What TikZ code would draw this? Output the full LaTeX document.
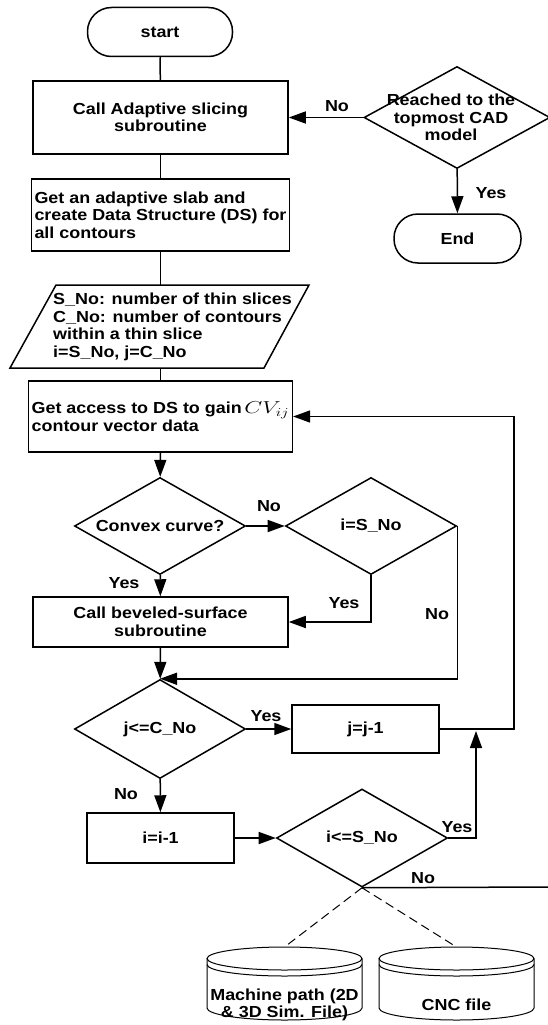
\documentclass[tikz,border=0pt]{standalone}
\usepackage{fontspec}
\usepackage{graphicx}
\newfontfamily\chartfont{Liberation Sans}[FakeStretch=1.12]
\usetikzlibrary{shapes.geometric,arrows.meta}
\newcommand\cvij{\scalebox{1.35}[1]{\fontsize{18}{18}\selectfont$CV_{ij}$}}
\tikzset{
  every node/.style={font=\chartfont\bfseries\fontsize{16}{17.5}\selectfont},
  procbox/.style={draw, line width=1.5pt, rectangle, minimum width=255pt, align=center, inner sep=3pt},
  decision/.style={draw, line width=1.5pt, diamond, inner sep=0pt, minimum width=171pt},
  terminal/.style={draw, line width=1.5pt, rectangle, rounded corners=24pt, minimum height=49pt},
  lbl/.style={inner sep=0pt},
  link/.style={line width=1.5pt},
  flow/.style={line width=1.5pt, -{Triangle[length=17pt,width=12pt]}},
  storeline/.style={line width=1pt},
}
\begin{document}
\begin{tikzpicture}[x=1pt,y=-1pt]
        \useasboundingbox (0,0) rectangle (548,1025);
        %% Main column
        \node[terminal, minimum width=145pt] (start) at (160,32) {start};
        \node[procbox, minimum height=73pt] (slice) at (160.5,117.5) {Call Adaptive slicing\\subroutine};
        \node[procbox, minimum height=72pt, align=left] (slab) at (160.5,215) {Get an adaptive slab and\\create Data Structure (DS) for\\all contours};
        %% Input data
        \draw[link] (56,285) -- (309,285) -- (264,368) -- (10,368) -- cycle;
        \node[align=left, anchor=west, inner sep=0pt] (input) at (53,327) {S\_No: number of thin slices\\C\_No: number of contours\\within a thin slice\\i=S\_No, j=C\_No};
        \coordinate (intop) at (160.5,285);
        \coordinate (inbot) at (160.5,368);
        \node[procbox, minimum height=71pt, align=left] (access) at (160.5,416.5) {Get access to DS to gain\,\cvij\\contour vector data};
        %% Decisions and steps
        \node[decision, minimum height=97pt, label=center:{Convex curve?}] (convex) at (160,526) {};
        \node[decision, minimum height=97pt, label=center:{i=S\_No}] (lastslice) at (371,526) {};
        \node[procbox, minimum height=50pt] (bevel) at (160.5,622) {Call beveled-surface\\subroutine};
        \node[decision, minimum height=99pt, label=center:{j<=C\_No}] (jcheck) at (160,729) {};
        \node[procbox, minimum width=147pt, minimum height=48pt] (jdec) at (365.5,729) {j=j-1};
        \node[procbox, minimum width=147pt, minimum height=50pt] (idec) at (160.5,838) {i=i-1};
        \node[decision, minimum height=98pt, label=center:{i<=S\_No}] (icheck) at (362,838) {};
        %% Right column
        \node[decision, minimum width=186pt, minimum height=102pt, label={[align=center, xshift=-6pt]center:{Reached to the\\topmost CAD\\model}}] (reached) at (457,117.5) {};
        \node[terminal, minimum width=127pt] (finish) at (457.5,238.5) {End};
        %% Loop points
        \coordinate (loopx) at (514,600);
        \coordinate (rejoin) at (476,731);
        \coordinate (exitright) at (548,887);
        %% Connectors
        \draw[link] (start) -- (slice);
        \draw[link] (slice) -- (slab);
        \draw[link] (slab) -- (intop);
        \draw[link] (inbot) -- (access);
        \draw[flow] (access) -- (convex);
        \draw[flow] (convex) -- (bevel);
        \draw[flow] (convex) -- (lastslice);
        \draw[flow] (lastslice.south) |- (bevel.east);
        \draw[flow] (lastslice.east) |- (jcheck.north);
        \draw[flow] (bevel) -- (jcheck);
        \draw[flow] (jcheck) -- (jdec);
        \draw[flow] (jdec.east) -| (loopx) |- (access.east);
        \draw[flow] (jcheck) -- (idec);
        \draw[flow] (idec) -- (icheck);
        \draw[flow] (icheck.east) -| (rejoin);
        \draw[link] (icheck.south) -- (exitright);
        \draw[flow] (reached) -- (slice);
        \draw[flow] (reached) -- (finish);
        %% Labels
        \node[lbl] (noreach) at (337,106) {No};
        \node[lbl] (yesreach) at (491,193) {Yes};
        \node[lbl] (noconvex) at (269,506) {No};
        \node[lbl] (yesconvex) at (124,583) {Yes};
        \node[lbl] (yesslice) at (344,603) {Yes};
        \node[lbl] (noslice) at (437,614) {No};
        \node[lbl] (yesj) at (266,716) {Yes};
        \node[lbl] (noj) at (126,794) {No};
        \node[lbl] (yesi) at (457,827) {Yes};
        \node[lbl] (noi) at (423,878) {No};
        %% Output files
        \foreach \cx/\nm in {284.5/mtop,456.5/ctop}{
          \draw[storeline] (\cx,958.5) ellipse (77.5pt and 11.5pt);
          \draw[storeline] (\cx-77.5,964.5) arc[start angle=180,end angle=360,x radius=77.5pt,y radius=11.5pt];
          \draw[storeline] (\cx-77.5,958.5) -- (\cx-77.5,1008) arc[start angle=180,end angle=360,x radius=77.5pt,y radius=12pt] -- (\cx+77.5,958.5);
          \coordinate (\nm) at (\cx,947);
        }
        \node[align=center] (mpath) at (284.5,1005) {Machine path (2D\\\& 3D Sim. File)};
        \node (cnc) at (456.5,1005) {CNC file};
        \draw[storeline, dash pattern=on 9pt off 5pt] (icheck.south) -- (mtop);
        \draw[storeline, dash pattern=on 9pt off 5pt] (icheck.south) -- (ctop);
\end{tikzpicture}
\end{document}
